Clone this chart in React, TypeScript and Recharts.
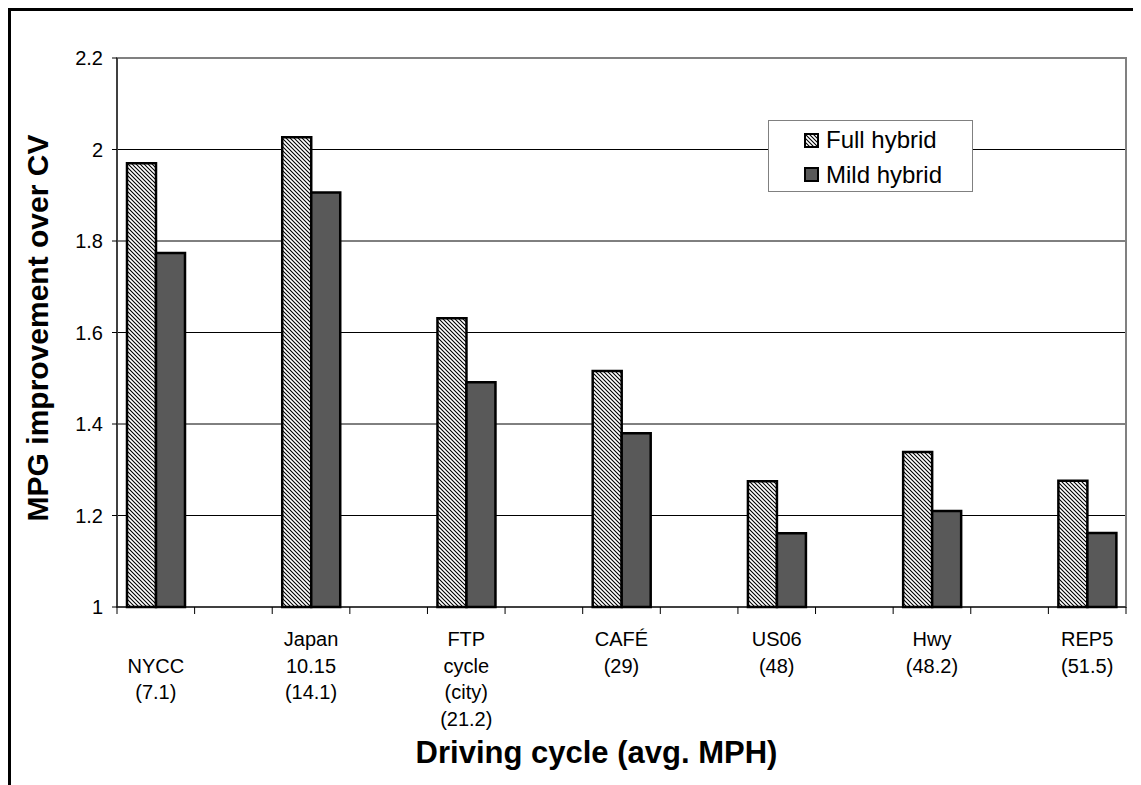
import { Bar, BarChart, CartesianGrid, Legend, ReferenceArea, XAxis, YAxis } from "recharts";

const FONT = "'Liberation Sans', Arial, sans-serif";

const cycles = ["NYCC", "gap1", "Japan", "gap2", "FTP", "gap3", "CAFÉ", "gap4", "US06", "gap5", "Hwy", "gap6", "REP5"];
const cycleLabels: string[][] = [
  ["", "NYCC", "(7.1)"],
  [],
  ["Japan", "10.15", "(14.1)"],
  [],
  ["FTP", "cycle", "(city)", "(21.2)"],
  [],
  ["CAFÉ", "(29)"],
  [],
  ["US06", "(48)"],
  [],
  ["Hwy", "(48.2)"],
  [],
  ["REP5", "(51.5)"],
];
const fullHybrid = [1.97, null, 2.027, null, 1.631, null, 1.516, null, 1.275, null, 1.339, null, 1.276];
const mildHybrid = [1.774, null, 1.906, null, 1.491, null, 1.38, null, 1.161, null, 1.21, null, 1.162];
const yTicks = [1, 1.2, 1.4, 1.6, 1.8, 2, 2.2];

const data = cycles.map((name, i) => ({
  name,
  full: fullHybrid[i],
  mild: mildHybrid[i],
}));

const CHART_W = 1133;
const CHART_H = 777;
const MARGIN = { top: 50, right: 15, left: 0, bottom: 0 };
const Y_AXIS_W = 109;
const PLOT_W = CHART_W - MARGIN.left - MARGIN.right - Y_AXIS_W;
const BAND = PLOT_W / cycles.length;

function CycleTick(props: any) {
  const { x, y, index } = props;
  const lines = cycleLabels[index] ?? [];
  const last = index === cycles.length - 1;
  return (
    <g>
      <line x1={x - BAND / 2} x2={x - BAND / 2} y1={y} y2={y + 7} stroke="#000" />
      {last && <line x1={x + BAND / 2} x2={x + BAND / 2} y1={y} y2={y + 7} stroke="#000" />}
      <text x={x} y={y + 39} textAnchor="middle" fontFamily={FONT} fontSize={20} fill="#000">
        {lines.map((line, i) => (
          <tspan key={i} x={x} dy={i === 0 ? 0 : 26.5}>
            {line}
          </tspan>
        ))}
      </text>
    </g>
  );
}

function HybridLegend() {
  const icon = { position: "absolute" as const, left: 35, width: 15, height: 15, boxSizing: "border-box" as const, border: "2px solid #000" };
  const label = { position: "absolute" as const, left: 57, lineHeight: "28px", fontSize: 24, fontFamily: FONT, color: "#000" };
  return (
    <div style={{ position: "relative", width: 205, height: 72, boxSizing: "border-box", border: "1px solid #808080", background: "#fff" }}>
      <svg style={{ ...icon, top: 12 }} width={15} height={15}>
        <rect x={0} y={0} width={15} height={15} fill="url(#hatch)" />
      </svg>
      <div style={{ ...label, top: 5 }}>Full hybrid</div>
      <div style={{ ...icon, top: 46, background: "#595959" }} />
      <div style={{ ...label, top: 40 }}>Mild hybrid</div>
    </div>
  );
}

export default function App() {
  return (
    <div style={{ position: "relative", width: CHART_W, height: CHART_H }}>
      <svg width={0} height={0} style={{ position: "absolute" }}>
        <defs>
          <pattern id="hatch" patternUnits="userSpaceOnUse" width={4} height={4}>
            <rect width={4} height={4} fill="#fff" />
            <path d="M-1,-1 L5,5 M-1,3 L1,5 M3,-1 L5,1" stroke="#000" strokeWidth={1.1} />
          </pattern>
        </defs>
      </svg>
      <div
        style={{
          position: "absolute",
          left: 0,
          top: 0,
          width: CHART_W,
          height: CHART_H,
          borderTop: "3px solid #000",
          borderLeft: "3px solid #000",
          boxSizing: "border-box",
        }}
      />
      <BarChart width={CHART_W} height={CHART_H} data={data} margin={MARGIN} barGap={0}>
        <CartesianGrid vertical={false} stroke="#000" />
        <ReferenceArea y1={1} y2={2.2} fill="none" stroke="#808080" strokeWidth={2} />
        <XAxis
          dataKey="name"
          interval={0}
          height={178}
          tickLine={false}
          tickSize={0}
          tickMargin={0}
          axisLine={{ stroke: "#000" }}
          tick={<CycleTick />}
          label={{
            content: ({ viewBox }: any) => (
              <text
                x={viewBox.x + viewBox.width / 2 - 25}
                y={viewBox.y + 156}
                textAnchor="middle"
                fontFamily={FONT}
                fontSize={31}
                fontWeight="bold"
                fill="#000"
              >
                Driving cycle (avg. MPH)
              </text>
            ),
          }}
        />
        <YAxis
          domain={[1, 2.2]}
          ticks={yTicks}
          width={Y_AXIS_W}
          tickSize={5}
          tickMargin={9}
          axisLine={{ stroke: "#000" }}
          tickLine={{ stroke: "#000" }}
          tick={{ fontFamily: FONT, fontSize: 20, fill: "#000" }}
          label={{
            content: () => (
              <text
                x={29}
                y={MARGIN.top + 270}
                transform={`rotate(-90, 29, ${MARGIN.top + 270})`}
                textAnchor="middle"
                dominantBaseline="central"
                fontFamily={FONT}
                fontSize={30}
                fontWeight="bold"
                fill="#000"
              >
                MPG improvement over CV
              </text>
            ),
          }}
        />
        <Legend
          layout="vertical"
          align="center"
          verticalAlign="middle"
          wrapperStyle={{ left: 760, top: 112, width: 205 }}
          content={() => <HybridLegend />}
        />
        <Bar dataKey="full" name="Full hybrid" fill="url(#hatch)" stroke="#000" strokeWidth={2.5} barSize={29} isAnimationActive={false} />
        <Bar dataKey="mild" name="Mild hybrid" fill="#595959" stroke="#000" strokeWidth={2.5} barSize={29} isAnimationActive={false} />
      </BarChart>
    </div>
  );
}
